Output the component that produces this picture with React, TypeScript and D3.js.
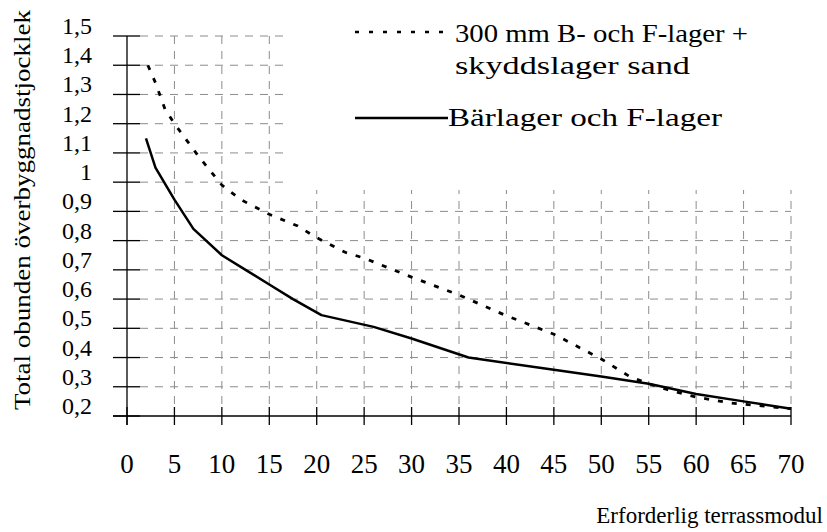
import React from "react";
import * as d3 from "d3";

const W = 827;
const H = 532;

const xTicks = [0, 5, 10, 15, 20, 25, 30, 35, 40, 45, 50, 55, 60, 65, 70];
const yTicks = [0.2, 0.3, 0.4, 0.5, 0.6, 0.7, 0.8, 0.9, 1.0, 1.1, 1.2, 1.3, 1.4, 1.5];
const yTickLabels = ["0,2", "0,3", "0,4", "0,5", "0,6", "0,7", "0,8", "0,9", "1", "1,1", "1,2", "1,3", "1,4", "1,5"];

// Series 1: 300 mm B- och F-lager + skyddslager sand (dotted)
const dottedX = [2.2, 3, 4, 5, 7.5, 10, 12, 15, 18, 20, 23, 25, 30, 35, 40, 45, 50, 53, 55, 57, 60, 63.5, 70];
const dottedY = [1.4, 1.34, 1.25, 1.2, 1.09, 0.99, 0.94, 0.89, 0.85, 0.81, 0.76, 0.74, 0.675, 0.614, 0.543, 0.48, 0.395, 0.335, 0.31, 0.29, 0.265, 0.245, 0.225];

// Series 2: Bärlager och F-lager (solid)
const solidX = [2, 3, 5, 7, 10, 12.5, 15, 17.5, 20.5, 26, 30, 36, 45, 50, 55, 60, 65, 70];
const solidY = [1.15, 1.05, 0.94, 0.84, 0.75, 0.7, 0.65, 0.6, 0.545, 0.505, 0.465, 0.4, 0.358, 0.335, 0.31, 0.275, 0.25, 0.225];

const legendLabels = ["300 mm B- och F-lager +", "skyddslager sand", "Bärlager och F-lager"];
const xTitle = "Erforderlig terrassmodul";
const yTitle = "Total obunden överbyggnadstjocklek";

const FONT = "'Liberation Serif', 'Times New Roman', serif";
const tStyle = { fontFamily: FONT };

export default function App() {
  const x = d3.scaleLinear().domain([0, 70]).range([127, 791]);
  const y = d3.scaleLinear().domain([0.2, 1.5]).range([416, 36]);

  const line = d3
    .line<[number, number]>()
    .x((d) => x(d[0]))
    .y((d) => y(d[1]))
    .curve(d3.curveLinear);

  const dotted = dottedX.map((v, i) => [v, dottedY[i]] as [number, number]);
  const solid = solidX.map((v, i) => [v, solidY[i]] as [number, number]);

  const gridColor = "#8c8c8c";

  return (
    <svg
      width={W}
      height={H}
      style={{ position: "absolute", left: 0, top: 0, background: "#fff" }}
    >
      <rect x={0} y={0} width={W} height={H} fill="#fff" />
      {/* horizontal gridlines */}
      {yTicks.slice(1).map((t) => (
        <line
          key={"hg" + t}
          x1={x(0) + 13}
          x2={x(70)}
          y1={y(t)}
          y2={y(t)}
          stroke={gridColor}
          strokeWidth={1}
          strokeDasharray="8 7"
        />
      ))}
      {/* vertical gridlines */}
      {xTicks.slice(1).map((t) => (
        <line
          key={"vg" + t}
          x1={x(t)}
          x2={x(t)}
          y1={y(1.5)}
          y2={y(0.2) - 9}
          stroke={gridColor}
          strokeWidth={1}
          strokeDasharray="8 7"
        />
      ))}
      {/* legend background */}
      <rect x={288} y={0} width={W - 288} height={190} fill="#fff" />

      {/* axes */}
      <line x1={x(0)} x2={x(0)} y1={y(1.5)} y2={y(0.2) + 9} stroke="#000" strokeWidth={1.3} />
      <line x1={x(0) - 14} x2={x(70)} y1={y(0.2)} y2={y(0.2)} stroke="#000" strokeWidth={1.3} />
      {yTicks.map((t) => (
        <line key={"yt" + t} x1={x(0) - 14} x2={x(0) + 13} y1={y(t)} y2={y(t)} stroke="#000" strokeWidth={1.3} />
      ))}
      {xTicks.map((t) => (
        <line key={"xt" + t} x1={x(t)} x2={x(t)} y1={y(0.2) - 9} y2={y(0.2) + 9} stroke="#000" strokeWidth={1.3} />
      ))}

      {/* tick labels */}
      {yTicks.map((t, i) => (
        <text key={"yl" + t} x={92} y={y(t) - 2} textAnchor="end" fontSize={24} fill="#000" style={tStyle}>
          {yTickLabels[i]}
        </text>
      ))}
      {xTicks.map((t) => (
        <text key={"xl" + t} x={x(t)} y={473} textAnchor="middle" fontSize={27} fill="#000" style={tStyle}>
          {String(t)}
        </text>
      ))}

      {/* axis titles */}
      <text x={823} y={523} textAnchor="end" fontSize={23} fill="#000" style={tStyle}>
        {xTitle}
      </text>
      <text
        transform={`translate(30,210) rotate(-90)`}
        textAnchor="middle"
        fontSize={24}
        fill="#000"
        style={tStyle}
        textLength={400}
        lengthAdjust="spacingAndGlyphs"
      >
        {yTitle}
      </text>

      {/* series */}
      <path d={line(solid) || ""} fill="none" stroke="#000" strokeWidth={2.5} strokeLinejoin="round" />
      <path d={line(dotted) || ""} fill="none" stroke="#000" strokeWidth={2.8} strokeDasharray="5 9" />

      {/* legend */}
      <line x1={355} x2={445} y1={32} y2={32} stroke="#000" strokeWidth={2.5} strokeDasharray="4 10" />
      <text x={455} y={42} fontSize={26} fill="#000" style={tStyle} textLength={293} lengthAdjust="spacingAndGlyphs">
        {legendLabels[0]}
      </text>
      <text x={455} y={74} fontSize={26} fill="#000" style={tStyle} textLength={235} lengthAdjust="spacingAndGlyphs">
        {legendLabels[1]}
      </text>
      <line x1={355} x2={448} y1={118} y2={118} stroke="#000" strokeWidth={2.5} />
      <text x={448} y={126} fontSize={26} fill="#000" style={tStyle} textLength={274} lengthAdjust="spacingAndGlyphs">
        {legendLabels[2]}
      </text>
    </svg>
  );
}
